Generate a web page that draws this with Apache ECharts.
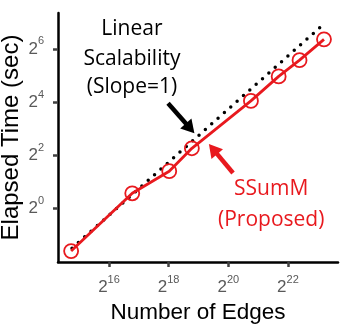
<!DOCTYPE html>
<html>
<head>
<meta charset="utf-8">
<script src="https://cdn.jsdelivr.net/npm/echarts@6/dist/echarts.min.js"></script>
<style>
  html, body { margin: 0; padding: 0; background: #fff; }
  #chart { width: 357px; height: 325px; }
</style>
</head>
<body>
<div id="chart"></div>
<script>
// log2(number of edges), log2(elapsed seconds)
const edgesLog2 = [14.73, 16.78, 18.02, 18.78, 20.76, 21.69, 22.39, 23.21]
const timeLog2 = [-1.59, 0.58, 1.41, 2.27, 4.05, 4.97, 5.58, 6.36]
// reference line with slope 1
const slopeLineX = [14.76, 23.27]
const slopeLineY = [-1.48, 7.0]
const xTicks = [16, 18, 20, 22]
const yTicks = [0, 2, 4, 6]

const red = '#e8191e'
const fontFamily = '"Liberation Sans", Arial, sans-serif'
const labelFont = '"Open Sans", "Liberation Sans", sans-serif'

const powLabel = (v) => '{b|2}{s|' + v + '}'
const powRich = {
  b: { fontSize: 17, color: '#595959', fontFamily: fontFamily },
  s: { fontSize: 11, color: '#595959', fontFamily: fontFamily, padding: [0, 0, 15, 0] }
}

const chart = echarts.init(document.getElementById('chart'))

chart.setOption({
  animation: false,
  grid: { left: 58, top: 13, right: 19, bottom: 63, outerBoundsMode: 'none', containLabel: false },
  xAxis: {
    type: 'value',
    min: 14.29,
    max: 23.68,
    name: 'Number of Edges',
    nameLocation: 'middle',
    nameGap: 39,
    nameTextStyle: { fontSize: 22.5, color: '#000', fontFamily: fontFamily },
    axisLine: { onZero: false, lineStyle: { color: '#000', width: 2.5 } },
    axisTick: { customValues: xTicks, length: 5, lineStyle: { color: '#404040', width: 2.5 } },
    axisLabel: { customValues: xTicks, formatter: powLabel, rich: powRich, margin: 12 },
    splitLine: { show: false }
  },
  yAxis: {
    type: 'value',
    min: -2,
    max: 7.35,
    name: 'Elapsed Time (sec)',
    nameLocation: 'middle',
    nameGap: 35,
    nameMoveOverlap: false,
    nameTextStyle: { fontSize: 24, color: '#000', fontFamily: fontFamily },
    axisLine: { show: true, onZero: false, lineStyle: { color: '#000', width: 2.5 } },
    axisTick: { show: true, customValues: yTicks, length: 5, lineStyle: { color: '#404040', width: 2.5 } },
    axisLabel: { customValues: yTicks, formatter: powLabel, rich: powRich, margin: 14 },
    splitLine: { show: false }
  },
  series: [
    {
      type: 'line',
      data: slopeLineX.map((x, i) => [x, slopeLineY[i]]),
      showSymbol: false,
      lineStyle: { color: '#000', width: 3.5, type: [0, 8.5], cap: 'round' },
      z: 1
    },
    {
      type: 'line',
      data: edgesLog2.map((x, i) => [x, timeLog2[i]]),
      symbol: 'circle',
      symbolSize: 14,
      itemStyle: { color: 'rgba(255,255,255,0)', borderColor: red, borderWidth: 1.8 },
      lineStyle: { color: red, width: 2.8 },
      z: 2,
      markLine: {
        silent: true,
        symbol: ['none', 'triangle'],
        symbolSize: [15, 13],
        label: { show: false },
        data: [
          [
            { coord: [17.98, 3.96], lineStyle: { color: '#000', width: 4.5, type: 'solid' }, itemStyle: { color: '#000' } },
            { coord: [18.72, 3.02] }
          ],
          [
            { coord: [20.16, 1.34], lineStyle: { color: red, width: 4.5, type: 'solid' }, itemStyle: { color: red } },
            { coord: [19.49, 2.24] }
          ]
        ]
      }
    }
  ]
})

// annotation texts placed in data coordinates
const notes = [
  { at: [16.77, 6.74], text: 'Linear', color: '#000' },
  { at: [16.77, 5.61], text: 'Scalability', color: '#000' },
  { at: [16.77, 4.56], text: '(Slope=1)', color: '#000' },
  { at: [21.44, 0.74], text: 'SSumM', color: red },
  { at: [21.44, -0.43], text: '(Proposed)', color: red }
]
chart.setOption({
  graphic: notes.map(n => {
    const p = chart.convertToPixel({ gridIndex: 0 }, n.at)
    return {
      type: 'text',
      x: p[0],
      y: p[1],
      style: {
        text: n.text,
        fill: n.color,
        font: '21px ' + labelFont,
        align: 'center',
        verticalAlign: 'middle'
      }
    }
  })
})
</script>
</body>
</html>
